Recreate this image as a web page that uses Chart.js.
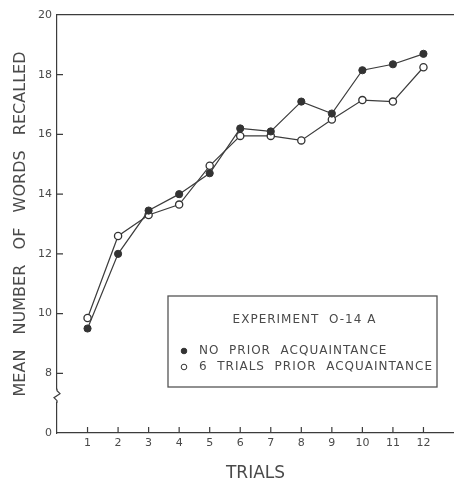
<!DOCTYPE html>
<html>
<head>
<meta charset="utf-8">
<script src="https://cdn.jsdelivr.net/npm/chart.js@4.4.0/dist/chart.umd.min.js"></script>
<style>
  body { margin: 0; background: #fff; }
</style>
</head>
<body>
<canvas id="recallChart" width="454" height="482"></canvas>
<script>
// values
const trials = [1, 2, 3, 4, 5, 6, 7, 8, 9, 10, 11, 12];
const noPrior = [9.5, 12.0, 13.45, 14.0, 14.7, 16.2, 16.1, 17.1, 16.7, 18.15, 18.35, 18.7];
const sixTrialsPrior = [9.85, 12.6, 13.3, 13.65, 14.95, 15.95, 15.95, 15.8, 16.5, 17.15, 17.1, 18.25];

// broken axis: the "0" tick sits where 6 would be
const yTickValues = [6, 8, 10, 12, 14, 16, 18, 20];
const yTickLabels = ['0', '8', '10', '12', '14', '16', '18', '20'];

const ink = '#3c3c3c';
const textInk = '#4a4a4a';
const fontFamily = "'DejaVu Sans', sans-serif";

const ctxRecall = document.getElementById('recallChart');

const dataRecall = {
    datasets: [{
        label: 'NO PRIOR ACQUAINTANCE',
        data: trials.map((t, i) => ({ x: t, y: noPrior[i] })),
        borderColor: ink,
        borderWidth: 1.2,
        pointRadius: 3.6,
        pointBackgroundColor: '#333',
        pointBorderColor: '#333',
        pointBorderWidth: 1,
        tension: 0
    }, {
        label: '6 TRIALS PRIOR ACQUAINTANCE',
        data: trials.map((t, i) => ({ x: t, y: sixTrialsPrior[i] })),
        borderColor: ink,
        borderWidth: 1.2,
        pointRadius: 3.6,
        pointBackgroundColor: '#fff',
        pointBorderColor: '#333',
        pointBorderWidth: 1.3,
        tension: 0
    }]
};

// inner tick marks, axis break and the boxed key
const paperDetails = {
    id: 'paperDetails',
    afterDraw(chart) {
        const { ctx, chartArea: a, scales: { x, y } } = chart;
        ctx.save();
        ctx.strokeStyle = ink;
        ctx.lineWidth = 1.2;
        ctx.beginPath();
        yTickValues.forEach(v => {
            if (v === 6 || v === 20) return;
            const py = y.getPixelForValue(v);
            ctx.moveTo(a.left, py);
            ctx.lineTo(a.left + 6, py);
        });
        trials.forEach(t => {
            const px = x.getPixelForValue(t);
            ctx.moveTo(px, a.bottom);
            ctx.lineTo(px, a.bottom - 6);
        });
        ctx.stroke();

        // zigzag break on the y axis
        const by = y.getPixelForValue(7.25);
        ctx.fillStyle = '#fff';
        ctx.fillRect(a.left - 3, by - 6, 6, 12);
        ctx.beginPath();
        ctx.moveTo(a.left, by - 7);
        ctx.lineTo(a.left, by - 5);
        ctx.lineTo(a.left + 3, by - 2);
        ctx.lineTo(a.left - 3, by + 2);
        ctx.lineTo(a.left, by + 5);
        ctx.lineTo(a.left, by + 7);
        ctx.stroke();

        // key box
        const bw = 269, bh = 91;
        const bx = a.right - 17 - bw;
        const byTop = a.bottom - 46 - bh;
        ctx.strokeStyle = '#555';
        ctx.lineWidth = 1.3;
        ctx.strokeRect(bx, byTop, bw, bh);

        ctx.fillStyle = textInk;
        ctx.font = "12px " + fontFamily;
        ctx.letterSpacing = '1px';
        ctx.textBaseline = 'middle';
        ctx.textAlign = 'center';
        ctx.fillText('EXPERIMENT  O-14 A', bx + bw / 2 + 2, byTop + 24);

        ctx.textAlign = 'left';
        chart.data.datasets.forEach((ds, i) => {
            const ry = byTop + 55 + i * 16;
            ctx.beginPath();
            ctx.arc(bx + 16, ry, 2.8, 0, Math.PI * 2);
            ctx.fillStyle = ds.pointBackgroundColor;
            ctx.fill();
            ctx.strokeStyle = ds.pointBorderColor;
            ctx.lineWidth = 1;
            ctx.stroke();
            ctx.fillStyle = textInk;
            ctx.fillText(ds.label.split(' ').join('  '), bx + 31, ry);
        });
        ctx.restore();
    }
};

const noSidePadding = s => { s.paddingLeft = 0; s.paddingRight = 0; };

const configRecall = {
    type: 'line',
    data: dataRecall,
    plugins: [paperDetails],
    options: {
        responsive: false,
        animation: false,
        layout: { padding: 0, autoPadding: false },
        plugins: {
            legend: { display: false },
            tooltip: { enabled: false }
        },
        scales: {
            x: {
                type: 'linear',
                position: 'bottom',
                min: 0,
                max: 13,
                afterBuildTicks: s => { s.ticks = trials.map(v => ({ value: v })); },
                afterFit: s => { s.height = 49; noSidePadding(s); },
                grid: { display: false, drawTicks: false },
                border: { display: true, color: ink, width: 1.2 },
                ticks: {
                    padding: 4,
                    color: textInk,
                    font: { family: fontFamily, size: 11 }
                },
                title: {
                    display: true,
                    text: 'TRIALS',
                    color: textInk,
                    padding: { top: 0, bottom: 0 },
                    font: { family: fontFamily, size: 17, lineHeight: 1 }
                }
            },
            xTop: {
                type: 'linear',
                position: 'top',
                min: 0,
                max: 13,
                afterFit: s => { s.height = 15; noSidePadding(s); },
                grid: { display: false, drawTicks: false },
                border: { display: true, color: ink, width: 1.2 },
                ticks: { display: false }
            },
            y: {
                min: 6,
                max: 20,
                afterBuildTicks: s => { s.ticks = yTickValues.map(v => ({ value: v })); },
                afterFit: s => { s.width = 57; },
                grid: { display: false, drawTicks: false },
                border: { display: true, color: ink, width: 1.2 },
                ticks: {
                    padding: 5,
                    color: textInk,
                    font: { family: fontFamily, size: 11 },
                    callback: v => yTickLabels[yTickValues.indexOf(v)]
                },
                title: {
                    display: true,
                    text: 'MEAN   NUMBER   OF   WORDS   RECALLED',
                    color: textInk,
                    padding: { top: 11, bottom: 0 },
                    font: { family: fontFamily, size: 16 }
                }
            }
        }
    }
};

const lineChartRecall = new Chart(ctxRecall, configRecall);
</script>
</body>
</html>
